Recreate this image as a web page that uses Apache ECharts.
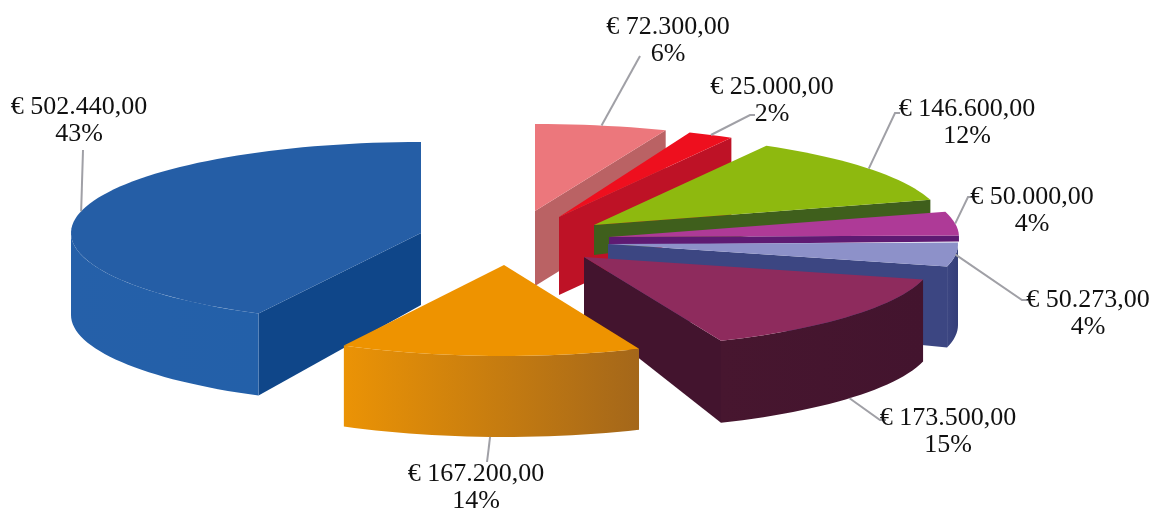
<!DOCTYPE html>
<html>
<head>
<meta charset="utf-8">
<style>html,body{margin:0;padding:0;background:#fff}#chart{width:1155px;height:514px}</style>
<script src="https://cdn.jsdelivr.net/npm/echarts@6/dist/echarts.min.js"></script>
</head>
<body>
<div id="chart"></div>
<script>
// clockwise from 12 o'clock
const values = [72300, 25000, 146600, 50000, 50273, 173500, 167200, 502440];
const percents = ['6%', '2%', '12%', '4%', '4%', '15%', '14%', '43%'];

const topColors = ['#EC777C', '#EE0F1E', '#8EB90F', '#AE3A97', '#8D91C9', '#8E2B5D', '#EE9300', '#255EA6'];
const radialColors = ['#BA6264', '#BE1226', '#3F5F1C', '#5E1A72', '#3C4682', '#43142E', '#A4671A', '#0F4689'];
const outerColors = [
  ['#BA6264', '#BA6264'], ['#BE1226', '#BE1226'], ['#3F5F1C', '#3F5F1C'], ['#5E1A72', '#5E1A72'],
  ['#3C4682', '#343E78'], ['#47162F', '#43142E'], ['#EB9305', '#A4671A'], ['#2560A9', '#2360A9']
];

// layout of each exploded slice, same order as values
const apexX = [535, 559, 594, 609, 608, 584, 504, 421];
const apexY = [211, 217, 225, 237, 244, 257, 265, 233];
const radiusX = [350, 350, 350, 350, 350, 350, 345, 350];
const radiusY = [87, 91, 91, 91, 91, 91, 91, 91];
const rimDepth = [75, 78, 14, 6, 81, 82, 81, 82];
const apexDepth = [75, 78, 30, 8, 70, 58, 60, 72];
const drawOrder = [0, 1, 2, 3, 4, 7, 5, 6];

const labelX = [668, 772, 967, 1032, 1088, 948, 476, 79];
const labelY = [14, 74, 96, 184, 287, 405, 461, 94];
const leaderEndX = [640, 750, 895, 968, 1022, 880, 487, 83];
const leaderEndY = [56, 115, 113, 197, 300, 420, 462, 150];
const leaderHook = [0, 5, 5, 5, 6, 6, 0, 0];

const total = values.reduce((a, b) => a + b, 0);
const toRad = Math.PI / 180;

function euro(v) {
  const s = String(v).replace(/\B(?=(\d{3})+$)/g, '.');
  return '€ ' + s + ',00';
}

// angles in degrees, screen clockwise, -90 is the top
const startAngles = [];
const endAngles = [];
values.reduce((acc, v, i) => {
  startAngles[i] = -90 + acc / total * 360;
  endAngles[i] = -90 + (acc + v) / total * 360;
  return acc + v;
}, 0);

function rimPoint(i, deg) {
  return [
    apexX[i] + radiusX[i] * Math.cos(deg * toRad),
    apexY[i] + radiusY[i] * Math.sin(deg * toRad)
  ];
}

function arcPoints(i, from, to) {
  const pts = [];
  const steps = Math.max(2, Math.ceil(Math.abs(to - from) / 2));
  for (let k = 0; k <= steps; k++) {
    pts.push(rimPoint(i, from + (to - from) * k / steps));
  }
  return pts;
}

function renderSlice(params, api) {
  const i = api.value(0);
  const z = drawOrder.indexOf(i) * 10 + 1;
  const t0 = startAngles[i];
  const t1 = endAngles[i];
  const apex = [apexX[i], apexY[i]];
  const depth = rimDepth[i];
  const children = [];

  function radialWall(deg) {
    const p = rimPoint(i, deg);
    children.push({
      type: 'polygon', z2: z,
      shape: { points: [apex, p, [p[0], p[1] + depth], [apex[0], apex[1] + apexDepth[i]]] },
      style: { fill: radialColors[i] }
    });
  }
  // a radial wall faces the viewer only when its normal points down the screen
  if (Math.cos(t0 * toRad) < 0) radialWall(t0);
  if (Math.cos(t1 * toRad) > 0) radialWall(t1);

  // outer wall: only the part of the rim on the front half
  const from = Math.max(t0, 0);
  const to = Math.min(t1, 180);
  if (to > from) {
    const upper = arcPoints(i, from, to);
    const lower = upper.map(p => [p[0], p[1] + depth]).reverse();
    const xs = upper.map(p => p[0]);
    children.push({
      type: 'polygon', z2: z + 1,
      shape: { points: upper.concat(lower) },
      style: {
        fill: new echarts.graphic.LinearGradient(
          Math.min(...xs), 0, Math.max(...xs), 0,
          [{ offset: 0, color: outerColors[i][0] }, { offset: 1, color: outerColors[i][1] }],
          true
        )
      }
    });
  }

  children.push({
    type: 'polygon', z2: z + 2,
    shape: { points: [apex].concat(arcPoints(i, t0, t1)) },
    style: { fill: topColors[i] }
  });

  // leader line from the rim at the slice's middle angle to its label
  const mid = (t0 + t1) / 2;
  const a = rimPoint(i, mid);
  if (Math.sin(mid * toRad) > 0.3) a[1] += depth;
  const end = [leaderEndX[i], leaderEndY[i]];
  children.push({
    type: 'polyline', z2: 200,
    shape: { points: [a, end, [end[0] + leaderHook[i], end[1]]] },
    style: { stroke: '#a0a0a6', lineWidth: 2, fill: null }
  });

  children.push({
    type: 'text', z2: 210,
    style: {
      x: labelX[i], y: labelY[i],
      text: euro(values[i]) + '\n' + percents[i],
      align: 'center', verticalAlign: 'top',
      font: '26px "Liberation Serif"', lineHeight: 27, fill: '#111'
    }
  });

  return { type: 'group', children };
}

const chart = echarts.init(document.getElementById('chart'), null, { renderer: 'canvas' });
chart.setOption({
  animation: false,
  backgroundColor: '#fff',
  series: [{
    type: 'custom',
    coordinateSystem: 'none',
    renderItem: renderSlice,
    silent: true,
    data: values.map((v, i) => [i, v])
  }]
});
</script>
</body>
</html>
